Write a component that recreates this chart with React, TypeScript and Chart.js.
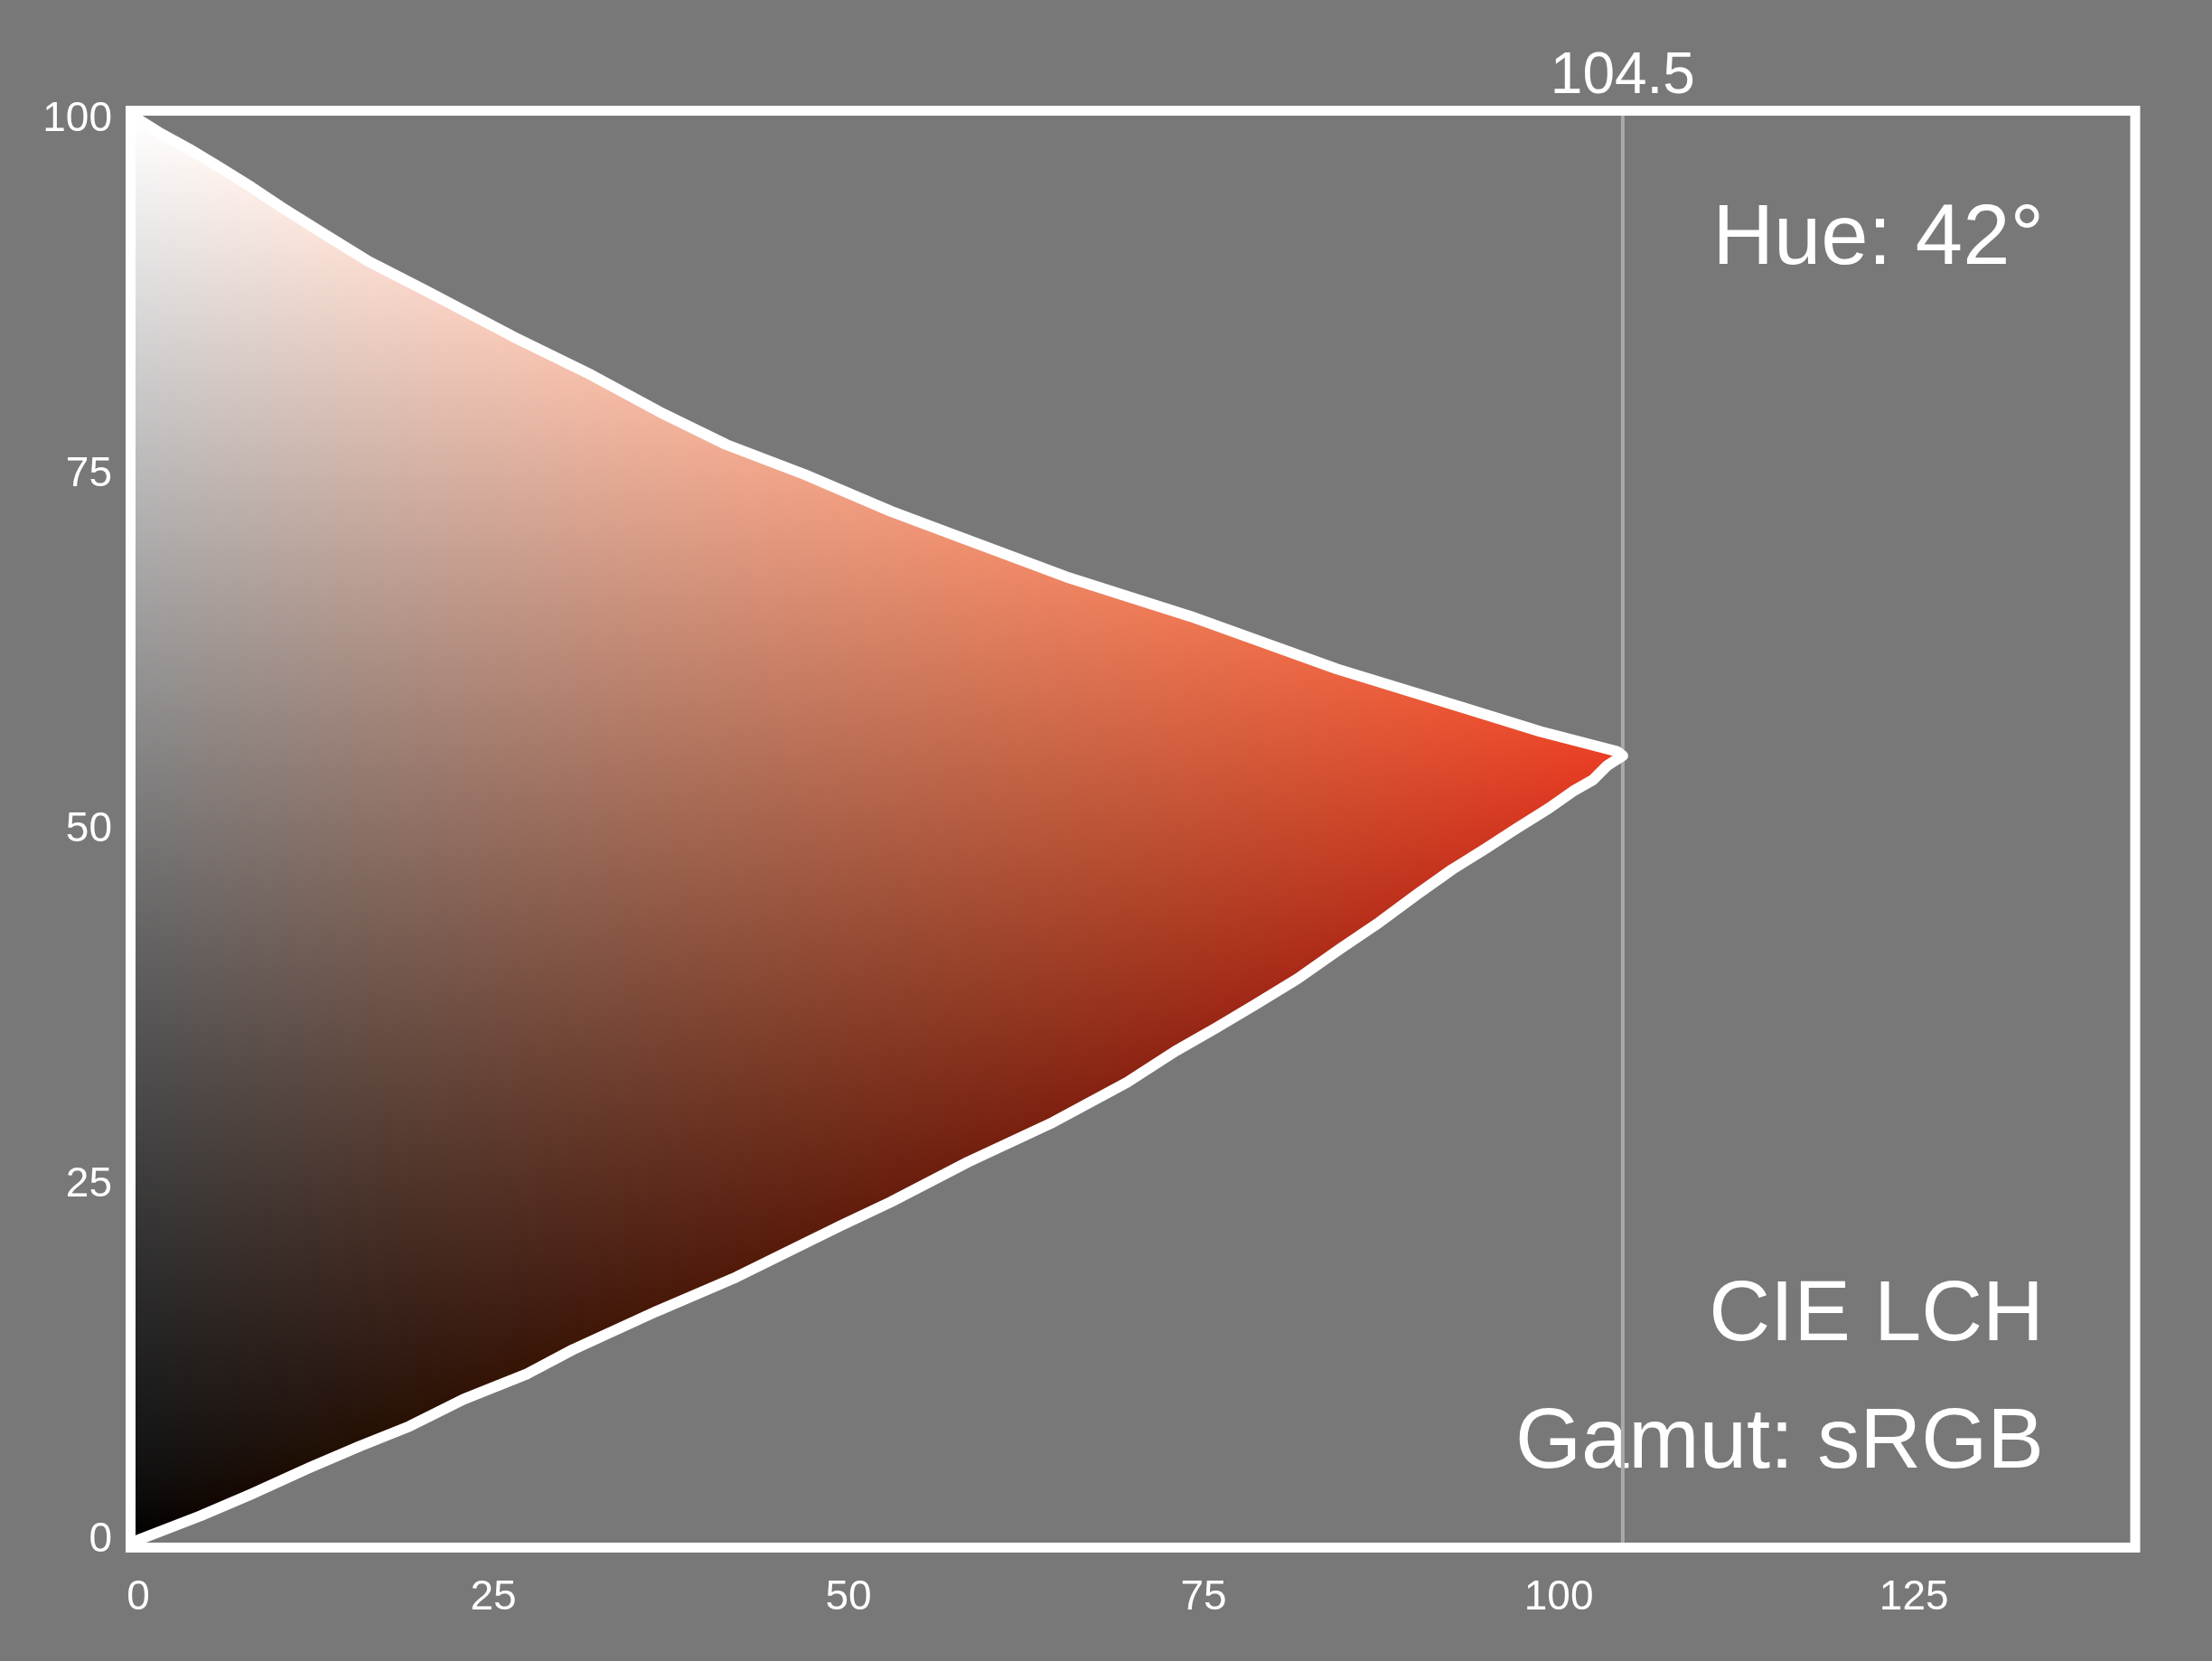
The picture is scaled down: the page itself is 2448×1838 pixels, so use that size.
import { useEffect, useRef } from 'react';
import { Chart, registerables } from 'chart.js';

Chart.register(...registerables);

// ---- data ----
const HUE = 42;
const MAX_CHROMA = [104.5];

const upperChroma = [0, 1.6, 3.6, 5.6, 8.0, 10.1, 12.8, 16.2, 20.3, 26.4, 31.9, 36.7, 41.4, 46.9, 53.0, 57.8, 65.3, 74.1, 84.4, 93.2, 98.7, 104.1, 104.5];
const upperLightness = [100, 99.0, 97.9, 96.7, 95.2, 93.8, 92.1, 90.0, 87.9, 84.7, 82.0, 79.4, 77.1, 75.0, 72.4, 70.6, 67.8, 65.0, 61.3, 58.6, 56.9, 55.5, 55.2];

const lowerChroma = [104.5, 103.4, 102.4, 101.0, 99.3, 96.9, 94.9, 92.5, 90.1, 87.4, 84.6, 81.6, 78.5, 75.8, 73.0, 69.6, 64.4, 58.4, 53.0, 49.4, 42.1, 36.5, 30.6, 27.4, 22.9, 19.1, 15.6, 12.1, 7.9, 4.4, 0];
const lowerLightness = [55.2, 54.5, 53.5, 52.7, 51.5, 50.0, 48.7, 47.2, 45.5, 43.5, 41.6, 39.5, 37.6, 36.0, 34.4, 32.2, 29.4, 26.6, 23.8, 22.1, 18.5, 16.1, 13.4, 11.7, 9.9, 8.0, 6.6, 5.1, 3.2, 1.7, 0];

const xTicks = [0, 25, 50, 75, 100, 125];
const yTicks = [0, 25, 50, 75, 100];
const X_MAX = 140;
const Y_MAX = 100;

const titleText = 'Hue: 42°';
const spaceText = 'CIE LCH';
const gamutText = 'Gamut: sRGB';
const maxLabel = '104.5';

const FONT = '"Liberation Sans", Arial, Helvetica, sans-serif';
const BG = '#787878';

// ---- colour conversion LCH(D50) -> sRGB (written as Display-P3 values) ----
function encode(v: number): number {
  if (v <= 0.0031308) v = 12.92 * v;
  else v = 1.055 * Math.pow(v, 1 / 2.4) - 0.055;
  v = Math.round(v * 255);
  return v < 0 ? 0 : v > 255 ? 255 : v;
}
function clamp01(v: number) {
  return v < 0 ? 0 : v > 1 ? 1 : v;
}

function lchToRgb(L: number, a: number, b: number, out: number[]) {
  const eps = 216 / 24389;
  const kappa = 24389 / 27;
  const fy = (L + 16) / 116;
  const fx = fy + a / 500;
  const fz = fy - b / 200;
  const fx3 = fx * fx * fx;
  const fz3 = fz * fz * fz;
  const xr = fx3 > eps ? fx3 : (116 * fx - 16) / kappa;
  const yr = L > kappa * eps ? fy * fy * fy : L / kappa;
  const zr = fz3 > eps ? fz3 : (116 * fz - 16) / kappa;
  const X50 = xr * 0.96422;
  const Y50 = yr;
  const Z50 = zr * 0.82521;
  const X = 0.9554734527042182 * X50 - 0.023098536874261423 * Y50 + 0.0632593086610217 * Z50;
  const Y = -0.028369706963208136 * X50 + 1.0099954580058226 * Y50 + 0.021041398966943008 * Z50;
  const Z = 0.012314001688319899 * X50 - 0.020507696433477912 * Y50 + 1.3303659366080753 * Z50;
  const r = clamp01(3.2409699419045226 * X - 1.537383177570094 * Y - 0.4986107602930034 * Z);
  const g = clamp01(-0.9692436362808796 * X + 1.8759675015077202 * Y + 0.04155505740717559 * Z);
  const bl = clamp01(0.05563007969699366 * X - 0.20397695888897652 * Y + 1.0569715142428786 * Z);
  // linear sRGB -> linear Display P3
  const pr = 0.8224621 * r + 0.177538 * g;
  const pg = 0.0331941 * r + 0.9668058 * g;
  const pb = 0.0170827 * r + 0.0723974 * g + 0.9105199 * bl;
  out[0] = encode(pr);
  out[1] = encode(pg);
  out[2] = encode(pb);
}

const gamutPlugin = {
  id: 'gamutPlugin',
  beforeDatasetsDraw(chart: any) {
    const { ctx, chartArea } = chart;
    const xs = chart.scales.x;
    const ys = chart.scales.y;
    const pts = chart.getDatasetMeta(0).data;
    if (!pts || !pts.length) return;

    const x0 = Math.floor(chartArea.left - 4);
    const x1 = Math.ceil(xs.getPixelForValue(MAX_CHROMA[0]) + 8);
    const y0 = Math.floor(chartArea.top - 2);
    const y1 = Math.ceil(chartArea.bottom + 2);
    const w = x1 - x0;
    const h = y1 - y0;
    const off = document.createElement('canvas');
    off.width = w;
    off.height = h;
    const octx = off.getContext('2d') as CanvasRenderingContext2D;
    const img = octx.createImageData(w, h);
    const d = img.data;
    const cosH = Math.cos((HUE * Math.PI) / 180);
    const sinH = Math.sin((HUE * Math.PI) / 180);
    const cols: number[] = [];
    for (let i = 0; i < w; i++) {
      cols.push(Math.max(0, xs.getValueForPixel(x0 + i + 0.5)));
    }
    const rgb = [0, 0, 0];
    for (let j = 0; j < h; j++) {
      let L = ys.getValueForPixel(y0 + j + 0.5);
      if (L < 0) L = 0;
      if (L > 100) L = 100;
      for (let i = 0; i < w; i++) {
        const C = cols[i];
        lchToRgb(L, C * cosH, C * sinH, rgb);
        const k = (j * w + i) * 4;
        d[k] = rgb[0];
        d[k + 1] = rgb[1];
        d[k + 2] = rgb[2];
        d[k + 3] = 255;
      }
    }
    octx.putImageData(img, 0, 0);

    ctx.save();
    ctx.beginPath();
    ctx.moveTo(chartArea.left - 4, pts[0].y);
    for (let i = 0; i < pts.length; i++) ctx.lineTo(pts[i].x, pts[i].y);
    ctx.lineTo(chartArea.left - 4, pts[pts.length - 1].y);
    ctx.closePath();
    ctx.clip();
    ctx.drawImage(off, x0, y0);
    ctx.restore();

    ctx.save();
    ctx.fillStyle = '#ffffff';
    ctx.textAlign = 'right';
    ctx.textBaseline = 'alphabetic';
    ctx.font = `94px ${FONT}`;
    const tx = chartArea.right - 92;
    ctx.fillText(titleText, tx, chartArea.top + 160);
    ctx.fillText(spaceText, tx, chartArea.bottom - 221);
    ctx.fillText(gamutText, tx, chartArea.bottom - 80);
    ctx.restore();

    const mx = xs.getPixelForValue(MAX_CHROMA[0]);
    ctx.save();
    ctx.strokeStyle = '#a9a9a9';
    ctx.lineWidth = 4;
    ctx.beginPath();
    ctx.moveTo(mx, chartArea.top - 6);
    ctx.lineTo(mx, chartArea.bottom + 5);
    ctx.stroke();
    ctx.restore();
  },
  afterDraw(chart: any) {
    const { ctx, chartArea } = chart;
    const xs = chart.scales.x;
    ctx.save();
    ctx.strokeStyle = '#ffffff';
    ctx.lineWidth = 11;
    ctx.lineJoin = 'miter';
    ctx.strokeRect(
      chartArea.left - 8.5,
      chartArea.top - 9.5,
      chartArea.right - chartArea.left + 17.5,
      chartArea.bottom - chartArea.top + 18
    );
    const mx = xs.getPixelForValue(MAX_CHROMA[0]);
    ctx.fillStyle = '#ffffff';
    ctx.font = `64px ${FONT}`;
    ctx.textAlign = 'center';
    ctx.textBaseline = 'alphabetic';
    ctx.fillText(maxLabel, mx, chartArea.top - 29);
    ctx.restore();
  },
};

export default function App() {
  const canvasRef = useRef<HTMLCanvasElement | null>(null);

  useEffect(() => {
    const canvas = canvasRef.current;
    if (!canvas) return;
    const boundary: { x: number; y: number }[] = [];
    upperChroma.forEach((c, i) => boundary.push({ x: c, y: upperLightness[i] }));
    lowerChroma.forEach((c, i) => {
      if (i === 0) return;
      boundary.push({ x: c, y: lowerLightness[i] });
    });

    const tickFont = { size: 46, family: FONT };
    const chart = new Chart(canvas, {
      type: 'scatter',
      data: {
        datasets: [
          {
            data: boundary,
            showLine: true,
            borderColor: '#ffffff',
            borderWidth: 12,
            borderJoinStyle: 'round',
            borderCapStyle: 'round',
            pointRadius: 0,
            pointHoverRadius: 0,
            fill: false,
            tension: 0,
            clip: false,
          } as any,
        ],
      },
      options: {
        animation: false,
        responsive: false,
        devicePixelRatio: 1,
        events: [],
        layout: { padding: { top: 132, right: 94, left: 0, bottom: 0 } },
        plugins: {
          legend: { display: false },
          tooltip: { enabled: false },
        },
        scales: {
          x: {
            type: 'linear',
            min: 0,
            max: X_MAX,
            grid: { display: false },
            border: { display: false },
            ticks: { color: '#ffffff', font: tickFont, padding: 29, maxRotation: 0 },
            afterBuildTicks: (scale: any) => {
              scale.ticks = xTicks.map((v) => ({ value: v }));
            },
            afterFit: (scale: any) => {
              scale.height = 134;
            },
          },
          y: {
            type: 'linear',
            min: 0,
            max: Y_MAX,
            grid: { display: false },
            border: { display: false },
            ticks: { color: '#ffffff', font: tickFont, padding: 21 },
            afterBuildTicks: (scale: any) => {
              scale.ticks = yTicks.map((v) => ({ value: v }));
            },
            afterFit: (scale: any) => {
              scale.width = 153;
            },
          },
        },
      } as any,
      plugins: [gamutPlugin],
    });
    return () => chart.destroy();
  }, []);

  return (
    <div
      style={{
        position: 'absolute',
        left: 0,
        top: 0,
        width: 2448,
        height: 1838,
        background: BG,
        overflow: 'hidden',
      }}
    >
      <canvas ref={canvasRef} width={2448} height={1838} style={{ display: 'block', width: 2448, height: 1838 }} />
    </div>
  );
}
